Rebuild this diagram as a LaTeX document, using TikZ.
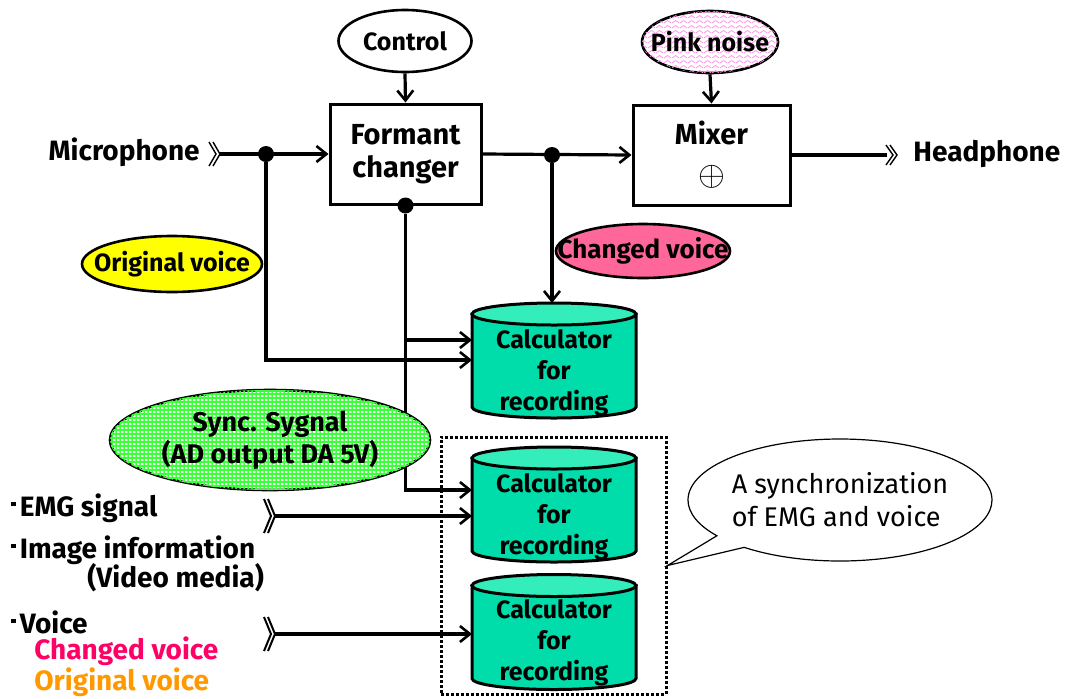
\documentclass[tikz,border=0pt]{standalone}
\usepackage{fontspec}
\setmainfont{Fira Sans}
\usetikzlibrary{arrows.meta,shapes.geometric,shapes.callouts,patterns}

\definecolor{cylbody}{RGB}{0,221,170}
\definecolor{cyllidc}{RGB}{51,238,187}
\definecolor{origfill}{RGB}{255,255,0}
\definecolor{chgfill}{RGB}{255,102,153}
\definecolor{chgtext}{RGB}{255,0,102}
\definecolor{origtext}{RGB}{255,153,0}
\definecolor{gridgreen}{RGB}{60,255,60}
\definecolor{wavepink}{RGB}{255,150,230}

% wavy lines for the pink-noise tag
\pgfdeclarepatternformonly{softzigzag}{\pgfpoint{0pt}{0pt}}{\pgfpoint{4pt}{2.6pt}}{\pgfpoint{4pt}{2.6pt}}{
  \pgfsetlinewidth{0.45pt}
  \pgfpathmoveto{\pgfpoint{0pt}{0.6pt}}
  \pgfpathlineto{\pgfpoint{2pt}{2pt}}
  \pgfpathlineto{\pgfpoint{4pt}{0.6pt}}
  \pgfusepath{stroke}}
% fine square grid for the sync tag
\pgfdeclarepatternformonly{finegrid}{\pgfpoint{-0.3pt}{-0.3pt}}{\pgfpoint{2.3pt}{2.3pt}}{\pgfpoint{2pt}{2pt}}{
  \pgfsetlinewidth{0.55pt}
  \pgfpathmoveto{\pgfpoint{0pt}{0pt}}\pgfpathlineto{\pgfpoint{2pt}{0pt}}
  \pgfpathmoveto{\pgfpoint{0pt}{0pt}}\pgfpathlineto{\pgfpoint{0pt}{2pt}}
  \pgfusepath{stroke}}

% double chevron ending at a named coordinate
\newcommand\dchev[3]{%
  \draw[line width=#3] ([shift={(-11,-#2)}]#1) -- ([shift={(-4,0)}]#1) -- ([shift={(-11,#2)}]#1);
  \draw[line width=#3] ([shift={(-7,-#2)}]#1) -- (#1) -- ([shift={(-7,#2)}]#1);}
% storage cylinder around a frame node
\newcommand\storecyl[1]{%
  \filldraw[fill=cylbody,line width=1.5pt] ([yshift=-5.5pt]#1.north west) -- ([yshift=5.5pt]#1.south west)
    arc[start angle=180,end angle=360,x radius=41pt,y radius=5.5pt] -- ([yshift=-5.5pt]#1.north east) -- cycle;
  \filldraw[fill=cyllidc,line width=1.5pt] ([yshift=-5.5pt]#1.north) ellipse[x radius=41pt,y radius=5.5pt];}
% square bullet of the input list
\newcommand\sqbullet{\rule[5pt]{2.2pt}{2.2pt}\hspace{2pt}}

\begin{document}
\begin{tikzpicture}[x=0.5pt,y=-0.5pt,
  lbl/.style={inner sep=0.5pt,font=\fontsize{14pt}{16pt}\selectfont\bfseries},
  wire/.style={line width=1.6pt},
  arr/.style={wire,-{Straight Barb[length=5pt,width=8pt,line width=1.3pt]}},
  blockbox/.style={draw,line width=1.5pt,fill=white,align=center,minimum height=50pt,
    font=\fontsize{14.5pt}{16.5pt}\selectfont\bfseries},
  tag/.style={ellipse,draw,line width=1.3pt,inner xsep=-14pt,inner ysep=-6pt,
    font=\fontsize{12.5pt}{14pt}\selectfont\bfseries},
  junction/.style={circle,fill,inner sep=0pt,minimum size=8pt},
  cylframe/.style={draw=none,inner sep=0pt,outer sep=0pt,minimum width=82pt,minimum height=57.5pt},
  cyltext/.style={align=center,font=\fontsize{12.5pt}{15.5pt}\selectfont\bfseries},
]
\useasboundingbox (0,0) rectangle (1067,698);

% blocks
\node[blockbox,minimum width=75.5pt] (formant) at (405.5,154) {Formant\\changer};
\node[blockbox,minimum width=78.5pt] (mixer) at (711.5,155) {Mixer\\[4pt]{\fontsize{18pt}{18pt}\selectfont$\oplus$}};

% recording calculators
\node[cylframe] (cyl1) at (554,360.5) {};
\node[cylframe] (cyl2) at (554,504.5) {};
\node[cylframe] (cyl3) at (554,632) {};
\storecyl{cyl1}\storecyl{cyl2}\storecyl{cyl3}
\node[cyltext] (cyl1lbl) at ([yshift=-6pt]cyl1.center) {Calculator\\for\\recording};
\node[cyltext] (cyl2lbl) at ([yshift=-6pt]cyl2.center) {Calculator\\for\\recording};
\node[cyltext] (cyl3lbl) at ([yshift=-5.5pt]cyl3.center) {Calculator\\for\\recording};

% synchronized group
\node[draw,line width=1.5pt,dash pattern=on 1.5pt off 1pt,minimum width=112.5pt,minimum height=128.5pt] (syncbox) at (553.5,565.5) {};

% terminals
\coordinate (micin) at (220,154);
\coordinate (hpin) at (897,155);
\coordinate (emgin) at (275,516);
\coordinate (voicein) at (275,634);
\node[lbl,anchor=east] (mic) at (201,152) {Microphone};
\node[lbl,anchor=west] (hp) at (912,154) {Headphone};

% junctions
\node[junction] (j1) at (266,154) {};
\node[junction] (j2) at (552,155) {};
\node[junction] (fd) at (formant.south) {};

% signal paths
\draw[arr] (micin) -- (formant.west);
\draw[arr] (formant.east) -- (mixer.west);
\draw[wire] (mixer.east) -- ([xshift=-5pt]hpin);
\draw[arr] (j2) -- (j2 |- cyl1.north);
\draw[arr] (j1) |- (cyl1.west |- 0,360);
\draw[arr] (fd |- 0,340) -- (cyl1.west |- 0,340);
\draw[arr] (fd) |- (cyl2.west |- 0,490);
\draw[arr] (emgin) -- (emgin -| cyl2.west);
\draw[arr] (voicein) -- (voicein -| cyl3.west);
\dchev{micin}{12}{0.7pt}
\dchev{hpin}{10}{0.7pt}
\dchev{emgin}{17}{1pt}
\dchev{voicein}{17}{1pt}

% control inputs
\node[tag,minimum width=66.5pt,minimum height=31pt,fill=white] (control) at (405,41) {Control};
\node[tag,minimum width=68pt,minimum height=31pt,fill=white,postaction={pattern=softzigzag,pattern color=wavepink}] (pink) at (710,42) {Pink noise};
\draw[arr] (control.south) -- (formant.north);
\draw[arr] (pink.south) -- (mixer.north);

% signal tags
\node[tag,fill=origfill,minimum width=90pt,minimum height=28pt] (origtag) at (172,264) {Original voice};
\node[tag,fill=chgfill,minimum width=87pt,minimum height=27pt,font=\fontsize{13pt}{14pt}\selectfont\bfseries] (chgtag) at (643,251) {Changed voice};
\node[tag,fill=white,postaction={pattern=finegrid,pattern color=gridgreen},minimum width=160pt,minimum height=50pt,align=center,font=\fontsize{13.5pt}{16pt}\selectfont\bfseries] (synctag) at (270,440) {Sync. Sygnal\\(AD output DA 5V)};

% note
\node[ellipse callout,draw,line width=0.6pt,fill=white,minimum width=152pt,minimum height=61pt,inner xsep=-6pt,inner ysep=-2pt,
  callout absolute pointer={(syncbox.east)},align=left,font=\fontsize{13.5pt}{16.5pt}\selectfont] (note) at (840,500) {A synchronization\\of EMG and voice};

% input list
\node[lbl,anchor=west] (emg) at (10,508) {\sqbullet EMG signal};
\node[lbl,anchor=west] (img) at (10,550) {\sqbullet Image information};
\node[lbl,anchor=west] (video) at (86,578) {(Video media)};
\node[lbl,anchor=west] (voice) at (10,622) {\sqbullet Voice};
\node[lbl,anchor=west,text=chgtext] (chg) at (33,651) {Changed voice};
\node[lbl,anchor=west,text=origtext] (orig) at (33,682) {Original voice};
\end{tikzpicture}
\end{document}
